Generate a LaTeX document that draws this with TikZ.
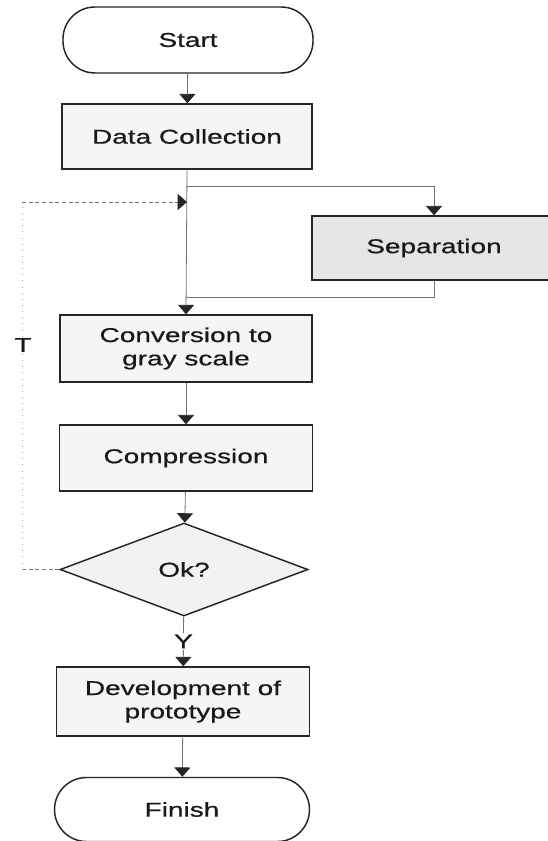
\documentclass[tikz,border=0pt]{standalone}
\usepackage{fontspec}
\setmainfont[FakeStretch=1.4,FakeBold=0.6]{Liberation Sans}
\usetikzlibrary{arrows.meta,shapes.geometric}
\begin{document}
\begin{tikzpicture}[x=0.75pt,y=-0.75pt,
  txt/.style={font=\fontsize{15}{17.5}\selectfont,text=black!90},
  box/.style={rectangle,draw=black!85,line width=1.1pt,fill=black!4,inner sep=0pt,align=center,txt},
  term/.style={box,fill=white,rounded corners=24pt},
  conn/.style={draw=black!55,line width=0.6pt},
  arr/.style={conn,-{Triangle[width=12pt,length=7pt,color=black!85]}}]
\useasboundingbox (0,0) rectangle (548,841);
\fill[white] (0,0) rectangle (548,841);
\clip (0,0) rectangle (548,841);

\node[term,minimum width=187.5pt,minimum height=49.5pt] (start) at (188,40) {Start};
\node[box,minimum width=187.5pt,minimum height=48.75pt] (data) at (187,136.5) {Data Collection};
\node[box,fill=black!10,minimum width=183pt,minimum height=48pt] (sep) at (434,248) {Separation};
\node[box,minimum width=189pt,minimum height=50.25pt] (conv) at (186,348.5) {Conversion to\\gray scale};
\node[box,minimum width=189.75pt,minimum height=49.5pt] (comp) at (186,458) {Compression};
\node[box,diamond,fill=black!5,aspect=2.67,minimum width=186pt,minimum height=69.75pt] (ok) at (184,569.5) {Ok?};
\node[box,minimum width=189.75pt,minimum height=51.75pt] (dev) at (183,701.5) {Development of\\prototype};
\node[term,minimum width=191.25pt,minimum height=48pt] (fin) at (182,809.5) {Finish};

\coordinate (br) at (187,186);
\coordinate (brR) at (434,186);
\coordinate (rt) at (434,297);
\coordinate (rtL) at (187,297);
\coordinate (fbL) at (22,569.5);
\coordinate (fbT) at (22,202);
\coordinate (fbM) at (187,202);

\draw[arr] (start) -- (data);
\draw[arr] (data.south) -- (conv.north);
\draw[arr] (br) -- (brR) -- (sep.north);
\draw[conn] (sep.south) -- (rt) -- (rtL);
\draw[arr] (conv) -- (comp);
\draw[arr] (comp) -- (ok);
\draw[arr] (ok) -- node[fill=white,inner sep=1pt,txt] (ylab) {Y} (dev);
\draw[arr] (dev) -- (fin);
\draw[conn,densely dashed] (ok.west) -- (fbL);
\draw[conn,draw=black!35,loosely dotted] (fbL) -- (fbT);
\draw[arr,densely dashed] (fbT) -- (fbM);
\node[txt,fill=white,inner sep=1pt] (tlab) at (23,345) {T};
\end{tikzpicture}
\end{document}
